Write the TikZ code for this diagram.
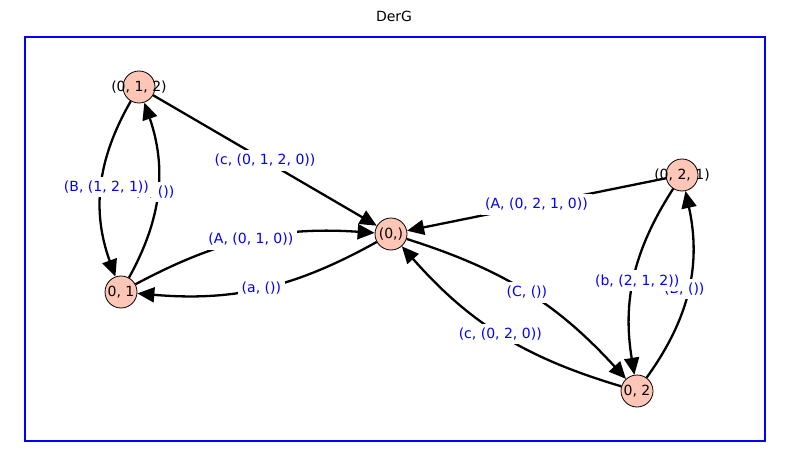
\documentclass[tikz,border=0pt]{standalone}
\usepackage{fontspec}
\setmainfont{DejaVu Sans}
\usetikzlibrary{arrows.meta}
\definecolor{nodefill}{HTML}{FEC6B6}
\definecolor{labblue}{HTML}{0000FF}
\begin{document}
\begin{tikzpicture}[x=1pt,y=-1pt,
  vert/.style={circle,draw=black,line width=0.8pt,fill=nodefill,minimum size=32pt,inner sep=0pt},
  vtext/.style={font=\fontsize{14}{16}\selectfont,text=black},
  e/.style={draw=black,line width=2.3pt,-{Triangle[length=17pt,width=15pt]}},
  lab/.style={fill=white,text=labblue,inner sep=4pt,font=\fontsize{14}{16}\selectfont},
  frame/.style={draw=blue,line width=1.3pt}]
\useasboundingbox (0,0) rectangle (790,460);
\node[font=\fontsize{14}{16}\selectfont] (title) at (394,16) {DerG};
\draw[frame] (25,37) rectangle (765,441);
% vertices
\node[vert,label={[vtext]center:(0, 1, 2)}] (v012) at (139,87) {};
\node[vert,label={[vtext]center:0, 1}] (v01) at (121,292) {};
\node[vert,label={[vtext]center:(0,)}] (v0) at (391,234) {};
\node[vert,label={[vtext]center:(0, 2, 1)}] (v021) at (682,175) {};
\node[vert,label={[vtext]center:0, 2}] (v02) at (637,391) {};
% edges
\draw[e] (v01) to[bend right=24] node[lab,xshift=-3pt] {(b, ())} (v012);
\draw[e] (v012) to[bend right=25] node[lab,xshift=5pt] {(B, (1, 2, 1))} (v01);
\draw[e] (v012) -- node[lab] {(c, (0, 1, 2, 0))} (v0);
\draw[e] (v01) to[bend left=16] node[lab] {(A, (0, 1, 0))} (v0);
\draw[e] (v0) to[bend left=17] node[lab] {(a, ())} (v01);
\draw[e] (v021) -- node[lab] {(A, (0, 2, 1, 0))} (v0);
\draw[e] (v0) to[bend left=15] node[lab] {(C, ())} (v02);
\draw[e] (v02) to[bend left=16] node[lab] {(c, (0, 2, 0))} (v0);
\draw[e] (v02) to[bend right=24] node[lab,xshift=-4pt] {(B, ())} (v021);
\draw[e] (v021) to[bend right=21] node[lab,xshift=3pt,yshift=-3pt] {(b, (2, 1, 2))} (v02);
\end{tikzpicture}
\end{document}
